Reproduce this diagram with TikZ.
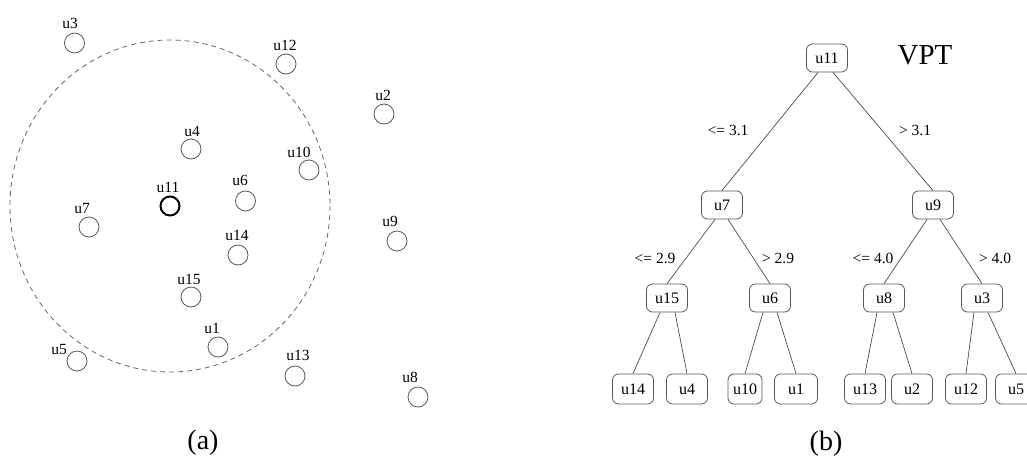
\documentclass[tikz,border=0pt]{standalone}
\usepackage{fontspec}
\setmainfont{Liberation Serif}
\usetikzlibrary{positioning}

\begin{document}
\begin{tikzpicture}[x=1pt,y=1pt,yscale=-1,xscale=1,
  pnt/.style={circle,draw=black!65,line width=0.8pt,minimum size=20pt,inner sep=0pt},
  pntlbl/.style={inner sep=0pt,font=\fontsize{15.5}{15.5}\selectfont},
  vpnode/.style={draw=black!65,line width=0.8pt,rounded corners=6pt,minimum width=41pt,minimum height=28pt,inner sep=1pt,font=\fontsize{16}{16}\selectfont},
  splitlbl/.style={inner sep=0pt,font=\fontsize{15.5}{15.5}\selectfont},
  treeedge/.style={draw=black!70,line width=0.7pt}]
\useasboundingbox (0,0) rectangle (1027,458);

%Shape: Dashed circle round u11
\draw [black!60,line width=0.8pt,dash pattern={on 5pt off 4pt}] (170,206) ellipse (160 and 166);

%Points of (a)
\node [pnt] (p3) at (74.5,43) {};
\node [pnt] (p12) at (286,64) {};
\node [pnt] (p2) at (384,114) {};
\node [pnt] (p4) at (191,149) {};
\node [pnt] (p10) at (309,170) {};
\node [pnt,draw=black,line width=2pt,minimum size=19pt] (p11) at (170,206) {};
\node [pnt] (p6) at (245.5,201) {};
\node [pnt] (p7) at (89,227) {};
\node [pnt] (p9) at (397,241) {};
\node [pnt] (p14) at (238,255) {};
\node [pnt] (p15) at (191,297) {};
\node [pnt] (p1) at (218,347) {};
\node [pnt] (p5) at (77,361) {};
\node [pnt] (p13) at (295,376) {};
\node [pnt] (p8) at (418,397) {};

% Text Node
\node [pntlbl] (l3) at (70,23) {u3};
\node [pntlbl] (l12) at (285,45) {u12};
\node [pntlbl] (l2) at (383,95) {u2};
\node [pntlbl] (l4) at (192,131) {u4};
\node [pntlbl] (l10) at (299,152) {u10};
\node [pntlbl] (l11) at (168,187) {u11};
\node [pntlbl] (l6) at (240,180) {u6};
\node [pntlbl] (l7) at (82,208) {u7};
\node [pntlbl] (l9) at (390,221) {u9};
\node [pntlbl] (l14) at (237,235) {u14};
\node [pntlbl] (l15) at (189,279) {u15};
\node [pntlbl] (l1) at (212,328) {u1};
\node [pntlbl] (l5) at (59,349) {u5};
\node [pntlbl] (l13) at (298,355) {u13};
\node [pntlbl] (l8) at (410,377) {u8};
\node [inner sep=0pt,font=\fontsize{28}{28}\selectfont] (capa) at (203,443) {(a)};

%Tree of (b)
\node [vpnode] (t11) at (827,58) {u11};
\node [vpnode] (t7) at (722,205) {u7};
\node [vpnode] (t9) at (933,205) {u9};
\node [vpnode] (t15) at (667,298) {u15};
\node [vpnode] (t6) at (770,298) {u6};
\node [vpnode] (t8) at (884,298) {u8};
\node [vpnode] (t3) at (982,298) {u3};
\node [vpnode,minimum height=30pt] (t14) at (633,389) {u14};
\node [vpnode,minimum height=30pt] (t4) at (687,389) {u4};
\node [vpnode,minimum height=30pt,minimum width=34pt] (t10) at (745,389) {u10};
\node [vpnode,minimum height=30pt,minimum width=43pt] (t1) at (796,389) {u1};
\node [vpnode,minimum height=30pt] (t13) at (865,389) {u13};
\node [vpnode,minimum height=30pt] (t2) at (912,389) {u2};
\node [vpnode,minimum height=30pt] (t12) at (966,389) {u12};
\node [vpnode,minimum height=30pt] (t5) at (1016,389) {u5};

%Straight Lines
\draw [treeedge] ([xshift=-9]t11.south) -- (t7.north);
\draw [treeedge] ([xshift=6]t11.south) -- (t9.north);
\draw [treeedge] ([xshift=-7]t7.south) -- (t15.north);
\draw [treeedge] ([xshift=6]t7.south) -- (t6.north);
\draw [treeedge] ([xshift=-6]t9.south) -- (t8.north);
\draw [treeedge] ([xshift=7]t9.south) -- (t3.north);
\draw [treeedge] ([xshift=-7]t15.south) -- (t14.north);
\draw [treeedge] ([xshift=8]t15.south) -- (t4.north);
\draw [treeedge] ([xshift=-7]t6.south) -- (t10.north);
\draw [treeedge] ([xshift=7]t6.south) -- (t1.north);
\draw [treeedge] ([xshift=-7]t8.south) -- (t13.north);
\draw [treeedge] ([xshift=9]t8.south) -- (t2.north);
\draw [treeedge] ([xshift=-8]t3.south) -- (t12.north);
\draw [treeedge] ([xshift=6]t3.south) -- (t5.north);

% Text Node
\node [splitlbl] (s1) at (728,130) {<= 3.1};
\node [splitlbl] (s2) at (915,130) {> 3.1};
\node [splitlbl] (s3) at (655,258) {<= 2.9};
\node [splitlbl] (s4) at (778,258) {> 2.9};
\node [splitlbl] (s5) at (873,258) {<= 4.0};
\node [splitlbl] (s6) at (995,258) {> 4.0};
\node [inner sep=0pt,font=\fontsize{29}{29}\selectfont] (vpt) at (925,55) {VPT};
\node [inner sep=0pt,font=\fontsize{28}{28}\selectfont] (capb) at (826,444) {(b)};

\end{tikzpicture}
\end{document}
